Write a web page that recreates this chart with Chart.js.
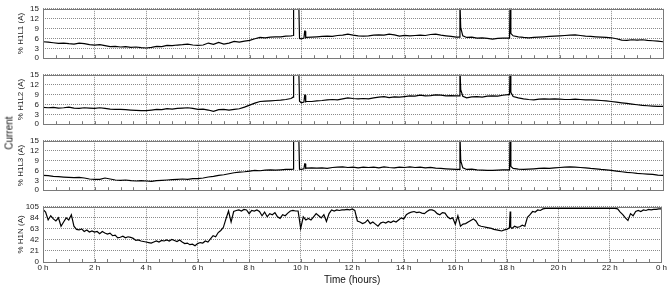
<!DOCTYPE html>
<html>
<head>
<meta charset="utf-8">
<script src="https://cdn.jsdelivr.net/npm/chart.js@4.4.1/dist/chart.umd.min.js"></script>
<style>
  body { margin: 0; background: #fff; width: 668px; height: 286px; position: relative; overflow: hidden; }
  canvas { position: absolute; left: 0; }
  #current { position: absolute; left: 9px; top: 133px; transform: translate(-50%, -50%) rotate(-90deg);
             font: 10px "Liberation Sans", Arial, sans-serif; color: #111; white-space: nowrap; }
</style>
</head>
<body>
<canvas id="c1" width="668" height="67" style="top:0px"></canvas>
<canvas id="c2" width="668" height="67" style="top:66px"></canvas>
<canvas id="c3" width="668" height="67" style="top:132px"></canvas>
<canvas id="c4" width="668" height="88" style="top:198px"></canvas>
<div id="current">Current</div>
<script>
// Time axis (hours) for the three phase traces
const hours = [
  0, 0.2, 0.4, 0.6, 0.8, 1.0, 1.2, 1.4, 1.6, 1.8,
  2.0, 2.2, 2.4, 2.6, 2.8, 3.0, 3.2, 3.4, 3.6, 3.8,
  4.0, 4.2, 4.4, 4.6, 4.8, 5.0, 5.2, 5.4, 5.6, 5.8,
  6.0, 6.2, 6.4, 6.6, 6.8, 7.0, 7.2, 7.4, 7.6, 7.8,
  8.0, 8.2, 8.4, 8.6, 8.8, 9.0, 9.2, 9.4, 9.6,
  9.68, 9.7, 9.9, 9.93, 10.0, 10.1, 10.13, 10.15, 10.17, 10.2, 10.4,
  10.6, 10.8, 11.0, 11.2, 11.4, 11.6, 11.8, 12.0, 12.2, 12.4,
  12.6, 12.8, 13.0, 13.2, 13.4, 13.6, 13.8, 14.0, 14.2, 14.4,
  14.6, 14.8, 15.0, 15.2, 15.4, 15.6, 15.8, 16.0,
  16.12, 16.14, 16.17, 16.25, 16.4, 16.6, 16.8, 17.0,
  17.2, 17.4, 17.6, 17.8, 18.0, 18.06, 18.08, 18.11, 18.2,
  18.4, 18.6, 18.8, 19.0, 19.2, 19.4, 19.6, 19.8, 20.0, 20.2,
  20.4, 20.6, 20.8, 21.0, 21.2, 21.4, 21.6, 21.8, 22.0, 22.2,
  22.4, 22.6, 22.8, 23.0, 23.2, 23.4, 23.6, 23.8, 24.0
];

const h1l1 = [
  5.0, 4.9, 4.7, 4.5, 4.6, 4.4, 4.3, 4.6, 4.4, 4.1,
  4.0, 4.1, 3.8, 3.5, 3.6, 3.4, 3.5, 3.3, 3.4, 3.2,
  3.1, 3.3, 3.6, 3.5, 3.9, 3.8, 4.0, 4.1, 4.3, 4.0,
  3.9, 4.0, 4.6, 4.2, 4.8, 4.3, 4.6, 5.1, 4.9, 5.2,
  5.4, 5.9, 6.3, 6.2, 6.4, 6.5, 6.5, 6.7, 6.8,
  6.9, 17, 17, 6.0, 5.9, 6.1, 8.2, 8.2, 6.2, 6.3, 6.4,
  6.5, 6.6, 6.7, 6.6, 6.9, 7.0, 7.3, 7.0, 6.8, 6.7,
  6.8, 7.0, 7.1, 7.0, 7.3, 7.1, 6.7, 6.9, 6.8, 6.9,
  7.0, 6.9, 7.2, 7.3, 7.0, 6.8, 6.6, 6.4,
  6.4, 17, 9.3, 6.8, 6.3, 6.4, 6.1, 6.2,
  6.0, 5.8, 6.0, 6.1, 6.1, 6.1, 17, 7.5, 6.8,
  6.5, 6.3, 6.2, 6.3, 6.4, 6.5, 6.6, 6.7, 6.8, 6.9,
  7.0, 7.1, 6.9, 6.7, 6.6, 6.5, 6.4, 6.3, 6.2, 5.9,
  5.5, 5.4, 5.6, 5.5, 5.6, 5.4, 5.3, 5.2, 5.0
];

const h1l2 = [
  5.1, 5.0, 5.1, 4.9, 5.0, 5.2, 4.9, 4.8, 5.0, 4.9,
  4.8, 5.0, 4.8, 4.6, 4.5, 4.5, 4.4, 4.3, 4.2, 4.1,
  4.1, 4.3, 4.5, 4.4, 4.7, 4.6, 4.8, 4.9, 5.0, 4.8,
  4.5, 4.6, 4.3, 3.9, 4.4, 4.5, 4.3, 4.5, 4.7, 5.2,
  5.8, 6.4, 6.9, 7.0, 7.1, 7.2, 7.3, 7.5, 7.8,
  8.2, 17, 17, 7.0, 6.5, 6.7, 8.8, 8.8, 6.8, 6.9, 6.9,
  7.1, 7.2, 7.4, 7.5, 7.4, 7.7, 8.0, 7.8, 7.7, 7.8,
  7.7, 8.0, 8.2, 8.4, 8.1, 8.3, 8.2, 8.4, 8.6, 8.5,
  8.8, 8.6, 8.7, 8.9, 8.8, 8.6, 8.7, 8.6,
  8.6, 17, 10.5, 8.5, 8.0, 8.3, 8.4, 8.2,
  8.5, 8.6, 8.5, 8.8, 9.0, 9.0, 17, 9.7, 8.4,
  8.0, 7.7, 7.5, 7.4, 7.6, 7.7, 7.6, 7.7, 7.6, 7.5,
  7.5, 7.6, 7.5, 7.4, 7.4, 7.3, 7.2, 7.1, 6.9, 6.7,
  6.5, 6.3, 6.1, 5.9, 5.7, 5.6, 5.5, 5.4, 5.4
];

const h1l3 = [
  4.5, 4.4, 4.2, 4.1, 4.0, 3.9, 3.8, 3.9, 3.7, 3.4,
  3.3, 3.3, 3.7, 3.4, 3.1, 3.0, 3.1, 2.9, 2.8, 2.9,
  2.8, 2.7, 2.9, 3.0, 3.1, 3.2, 3.3, 3.4, 3.3, 3.5,
  3.5, 3.7, 4.0, 4.2, 4.5, 4.7, 5.0, 5.3, 5.5, 5.6,
  5.8, 6.0, 5.9, 6.1, 6.2, 6.1, 6.2, 6.3, 6.3,
  6.4, 17, 17, 6.4, 6.3, 6.5, 8.0, 8.0, 6.6, 6.7, 6.8,
  6.7, 6.8, 6.6, 6.9, 7.0, 7.1, 6.9, 7.0, 6.8, 7.0,
  6.9, 7.0, 6.8, 7.1, 6.9, 6.8, 7.0, 6.9, 7.1, 6.9,
  7.0, 6.8, 6.9, 6.7, 6.6, 6.5, 6.4, 6.3,
  6.3, 17, 9.0, 6.8, 6.3, 6.4, 6.2, 6.1,
  6.0, 6.0, 6.1, 6.2, 6.2, 6.2, 17, 7.2, 6.6,
  6.4, 6.3, 6.4, 6.5, 6.6, 6.7, 6.6, 6.8, 6.9, 7.0,
  7.1, 7.0, 6.9, 6.8, 6.6, 6.5, 6.3, 6.2, 6.0, 5.8,
  5.6, 5.4, 5.3, 5.1, 5.0, 4.9, 4.8, 4.6, 4.5
];

// Neutral trace is much noisier, so it gets a finer time axis
const nHours = [
  0, 0.1, 0.2, 0.3, 0.4, 0.5, 0.6, 0.7, 0.8, 0.9,
  1.0, 1.1, 1.2, 1.3, 1.4, 1.5, 1.6, 1.7, 1.8, 1.9,
  2.0, 2.1, 2.2, 2.3, 2.4, 2.5, 2.6, 2.7, 2.8, 2.9,
  3.0, 3.1, 3.2, 3.3, 3.4, 3.5, 3.6, 3.7, 3.8, 3.9,
  4.0, 4.1, 4.2, 4.3, 4.4, 4.5, 4.6, 4.7, 4.8, 4.9,
  5.0, 5.1, 5.2, 5.3, 5.4, 5.5, 5.6, 5.7, 5.8, 5.9,
  6.0, 6.1, 6.2, 6.3, 6.4, 6.5, 6.6, 6.7, 6.8, 6.9,
  7.0, 7.1, 7.2, 7.3, 7.4, 7.5, 7.6, 7.7, 7.8, 7.9,
  8.0, 8.1, 8.2, 8.3, 8.4, 8.5, 8.6, 8.7, 8.8, 8.9,
  9.0, 9.1, 9.2, 9.3, 9.4, 9.5, 9.6, 9.7, 9.8, 9.9,
  10.0, 10.1, 10.2, 10.3, 10.4, 10.5, 10.6, 10.7, 10.8, 10.9,
  11.0, 11.1, 11.2, 11.3, 11.4, 11.5, 11.6, 11.7, 11.8, 11.9,
  12.0, 12.1, 12.2, 12.3, 12.4, 12.5, 12.6, 12.7, 12.8, 12.9,
  13.0, 13.1, 13.2, 13.3, 13.4, 13.5, 13.6, 13.7, 13.8, 13.9,
  14.0, 14.1, 14.2, 14.3, 14.4, 14.5, 14.6, 14.7, 14.8, 14.9,
  15.0, 15.1, 15.2, 15.3, 15.4, 15.5, 15.6, 15.7, 15.8, 15.9,
  16.0, 16.1, 16.2, 16.3, 16.4, 16.5, 16.6, 16.7, 16.8, 16.9,
  17.0, 17.1, 17.2, 17.3, 17.4, 17.5, 17.6, 17.7, 17.8, 17.9,
  18.0, 18.1, 18.13, 18.15, 18.2, 18.3, 18.4, 18.5, 18.6, 18.7, 18.8, 18.9,
  19.0, 19.1, 19.2, 19.3, 19.4, 19.5, 19.6, 19.7, 19.8, 19.9,
  20.0, 20.1, 20.2, 20.3, 20.4, 20.5, 20.6, 20.7, 20.8, 20.9,
  21.0, 21.1, 21.2, 21.3, 21.4, 21.5, 21.6, 21.7, 21.8, 21.9,
  22.0, 22.1, 22.2, 22.3, 22.4, 22.5, 22.6, 22.7, 22.8, 22.9,
  23.0, 23.1, 23.2, 23.3, 23.4, 23.5, 23.6, 23.7, 23.8, 23.9,
  24.0
];

const h1n = [
  100, 95, 80, 88, 82, 78, 84, 68, 76, 84,
  80, 90, 68, 62, 61, 63, 58, 61, 57, 59,
  57, 58, 54, 58, 55, 53, 55, 50, 51, 46,
  47, 49, 46, 48, 47, 45, 41, 42, 40, 39,
  38, 37, 36, 38, 40, 38, 41, 40, 42, 40,
  43, 41, 39, 42, 38, 35, 36, 33, 34, 31,
  35, 37, 36, 40, 38, 44, 50, 48, 56, 60,
  66, 82, 97, 76, 96, 98, 99, 97, 100, 99,
  92, 98, 97, 99, 96, 88, 95, 86, 92, 90,
  94, 86, 83, 90, 88, 93, 97, 98, 97, 97,
  64, 86, 80, 83, 80, 86, 92, 88, 84, 90,
  77, 92, 99, 97, 99, 98, 99, 99, 100, 99,
  101, 98, 78, 76, 73, 75, 80, 73, 76, 72,
  68, 74, 76, 74, 77, 75, 78, 76, 80, 84,
  82, 90, 93, 95, 96, 94, 95, 93, 92, 96,
  99, 99, 97, 92, 90, 94, 93, 86, 82, 84,
  72, 88, 68, 72, 73, 76, 79, 82, 78, 70,
  68, 67, 66, 65, 64, 62, 61, 60, 59, 61,
  62, 65, 96, 66, 64, 68, 66, 67, 70, 68, 85, 90,
  96, 95, 99, 98, 101, 102, 102, 102, 102, 102,
  102, 102, 102, 102, 102, 102, 102, 102, 102, 102,
  102, 102, 102, 102, 102, 102, 102, 102, 102, 102,
  102, 102, 102, 101, 95, 90, 84, 79, 92, 88,
  96, 98, 96, 99, 98, 100, 99, 100, 100, 101,
  101
];

const panelTitles = ['% H1L1 (A)', '% H1L2 (A)', '% H1L3 (A)', '% H1N (A)'];
const yMax = [15, 15, 15, 105];
const yStep = [3, 3, 3, 21];
const xMin = 0, xMax = 24, xStep = 2, minorStep = 0.5;

const FONT = '"Liberation Sans", Arial, sans-serif';

// frame + small inner ticks along the bottom edge
const framePlugin = {
  id: 'frame',
  afterDraw(chart) {
    const { ctx, chartArea: a, scales: { x } } = chart;
    ctx.save();
    ctx.strokeStyle = '#7a7a7a';
    ctx.lineWidth = 1;
    ctx.beginPath();
    for (let h = xMin; h <= xMax; h += minorStep) {
      const px = Math.round(x.getPixelForValue(h)) + 0.5;
      ctx.moveTo(px, a.bottom);
      ctx.lineTo(px, a.bottom - 3);
    }
    ctx.stroke();
    ctx.strokeRect(Math.round(a.left) + 0.5, Math.round(a.top) + 0.5,
                   Math.round(a.right - a.left), Math.round(a.bottom - a.top));
    ctx.restore();
  }
};

function makePanel(id, idx, times, values) {
  const last = idx === 3;
  new Chart(document.getElementById(id), {
    type: 'line',
    data: {
      datasets: [{
        data: times.map((h, i) => ({ x: h, y: values[i] })),
        borderColor: '#000',
        borderWidth: 1.2,
        pointRadius: 0,
        tension: 0
      }]
    },
    options: {
      responsive: false,
      animation: false,
      events: [],
      layout: { padding: { top: 4, right: 5, bottom: last ? 0 : 4, left: 0 } },
      plugins: { legend: { display: false }, tooltip: { enabled: false } },
      scales: {
        x: {
          type: 'linear',
          min: xMin, max: xMax,
          afterFit: s => { s.height = last ? 24 : 0; },
          border: { display: false, dash: [1, 1] },
          grid: { color: '#8a8a8a', drawTicks: false },
          ticks: {
            display: last,
            stepSize: xStep,
            autoSkip: false,
            maxRotation: 0,
            padding: 1,
            color: '#222',
            font: { family: FONT, size: 8 },
            callback: v => (v % 24) + ' h'
          },
          title: {
            display: last,
            text: 'Time (hours)',
            color: '#111',
            font: { family: FONT, size: 10 },
            padding: { top: 0, bottom: 0 }
          }
        },
        y: {
          min: 0, max: yMax[idx],
          afterFit: s => { s.width = 43; },
          border: { display: false, dash: [1, 1] },
          grid: { color: '#8a8a8a', drawTicks: false },
          ticks: {
            stepSize: yStep[idx],
            autoSkip: false,
            padding: 4,
            color: '#222',
            font: { family: FONT, size: 8 }
          },
          title: {
            display: true,
            text: panelTitles[idx],
            color: '#222',
            font: { family: FONT, size: 8 },
            padding: { top: 16, bottom: 0 }
          }
        }
      }
    },
    plugins: [framePlugin]
  });
}

makePanel('c1', 0, hours, h1l1);
makePanel('c2', 1, hours, h1l2);
makePanel('c3', 2, hours, h1l3);
makePanel('c4', 3, nHours, h1n);
</script>
</body>
</html>
